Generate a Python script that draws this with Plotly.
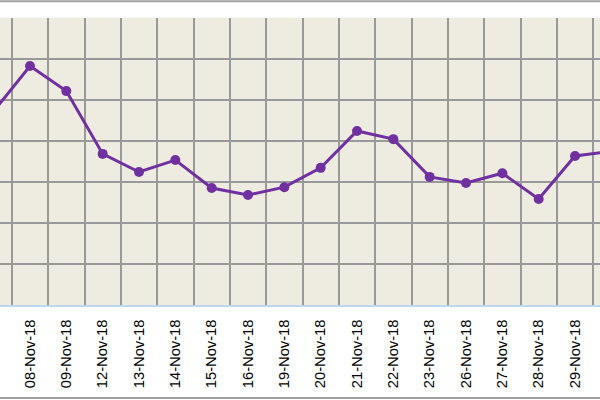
import plotly.graph_objects as go

# dates on the category axis (business days, Nov 2018)
dates = ["07-Nov-18", "08-Nov-18", "09-Nov-18", "12-Nov-18", "13-Nov-18",
         "14-Nov-18", "15-Nov-18", "16-Nov-18", "19-Nov-18", "20-Nov-18",
         "21-Nov-18", "22-Nov-18", "23-Nov-18", "26-Nov-18", "27-Nov-18",
         "28-Nov-18", "29-Nov-18", "30-Nov-18"]

# values
values = [47.2, 58.2, 52.1, 36.8, 32.4, 35.3, 28.5, 26.8, 28.7, 33.4,
          42.4, 40.4, 31.2, 29.7, 32.1, 25.8, 36.3, 37.4]

y_ticks = [0, 10, 20, 30, 40, 50, 60, 70]

fig = go.Figure(go.Scatter(
    x=dates,
    y=values,
    mode="lines+markers",
    line=dict(color="#7030A0", width=3),
    marker=dict(color="#7030A0", size=10),
    hoverinfo="x+y"))

fig.update_layout(
    width=600, height=400,
    margin=dict(l=0, r=0, t=0, b=0),
    paper_bgcolor="white",
    plot_bgcolor="#EEECE1",
    showlegend=False,
    font=dict(family="Liberation Sans, Arial", size=14.7, color="black"),
    xaxis=dict(
        type="category",
        range=[0.174, 16.688],
        domain=[0, 1],
        automargin=False,
        tickson="boundaries",
        showgrid=True, gridcolor="#999999", gridwidth=1.5,
        tickangle=-90,
        ticks="", ticklabelstandoff=7,
        showline=True, linecolor="#BDD7EE", linewidth=1.5,
        zeroline=False),
    yaxis=dict(
        range=[0, 70],
        domain=[0.2375, 0.956],
        automargin=False,
        tickvals=y_ticks,
        showticklabels=False,
        showgrid=True, gridcolor="#999999", gridwidth=1.5,
        zeroline=False))

# chart frame lines top and bottom
fig.add_shape(type="line", xref="paper", yref="paper", x0=0, x1=1, y0=0.997, y1=0.997,
              line=dict(color="#A0A0A0", width=2))
fig.add_shape(type="line", xref="paper", yref="paper", x0=0, x1=1, y0=0.005, y1=0.005,
              line=dict(color="#A0A0A0", width=2))

# no modebar, and drop the default page margin so the chart sits at the window corner
fig.write_html("out.html", config={"displayModeBar": False},
               post_script="document.body.style.margin='0';")
